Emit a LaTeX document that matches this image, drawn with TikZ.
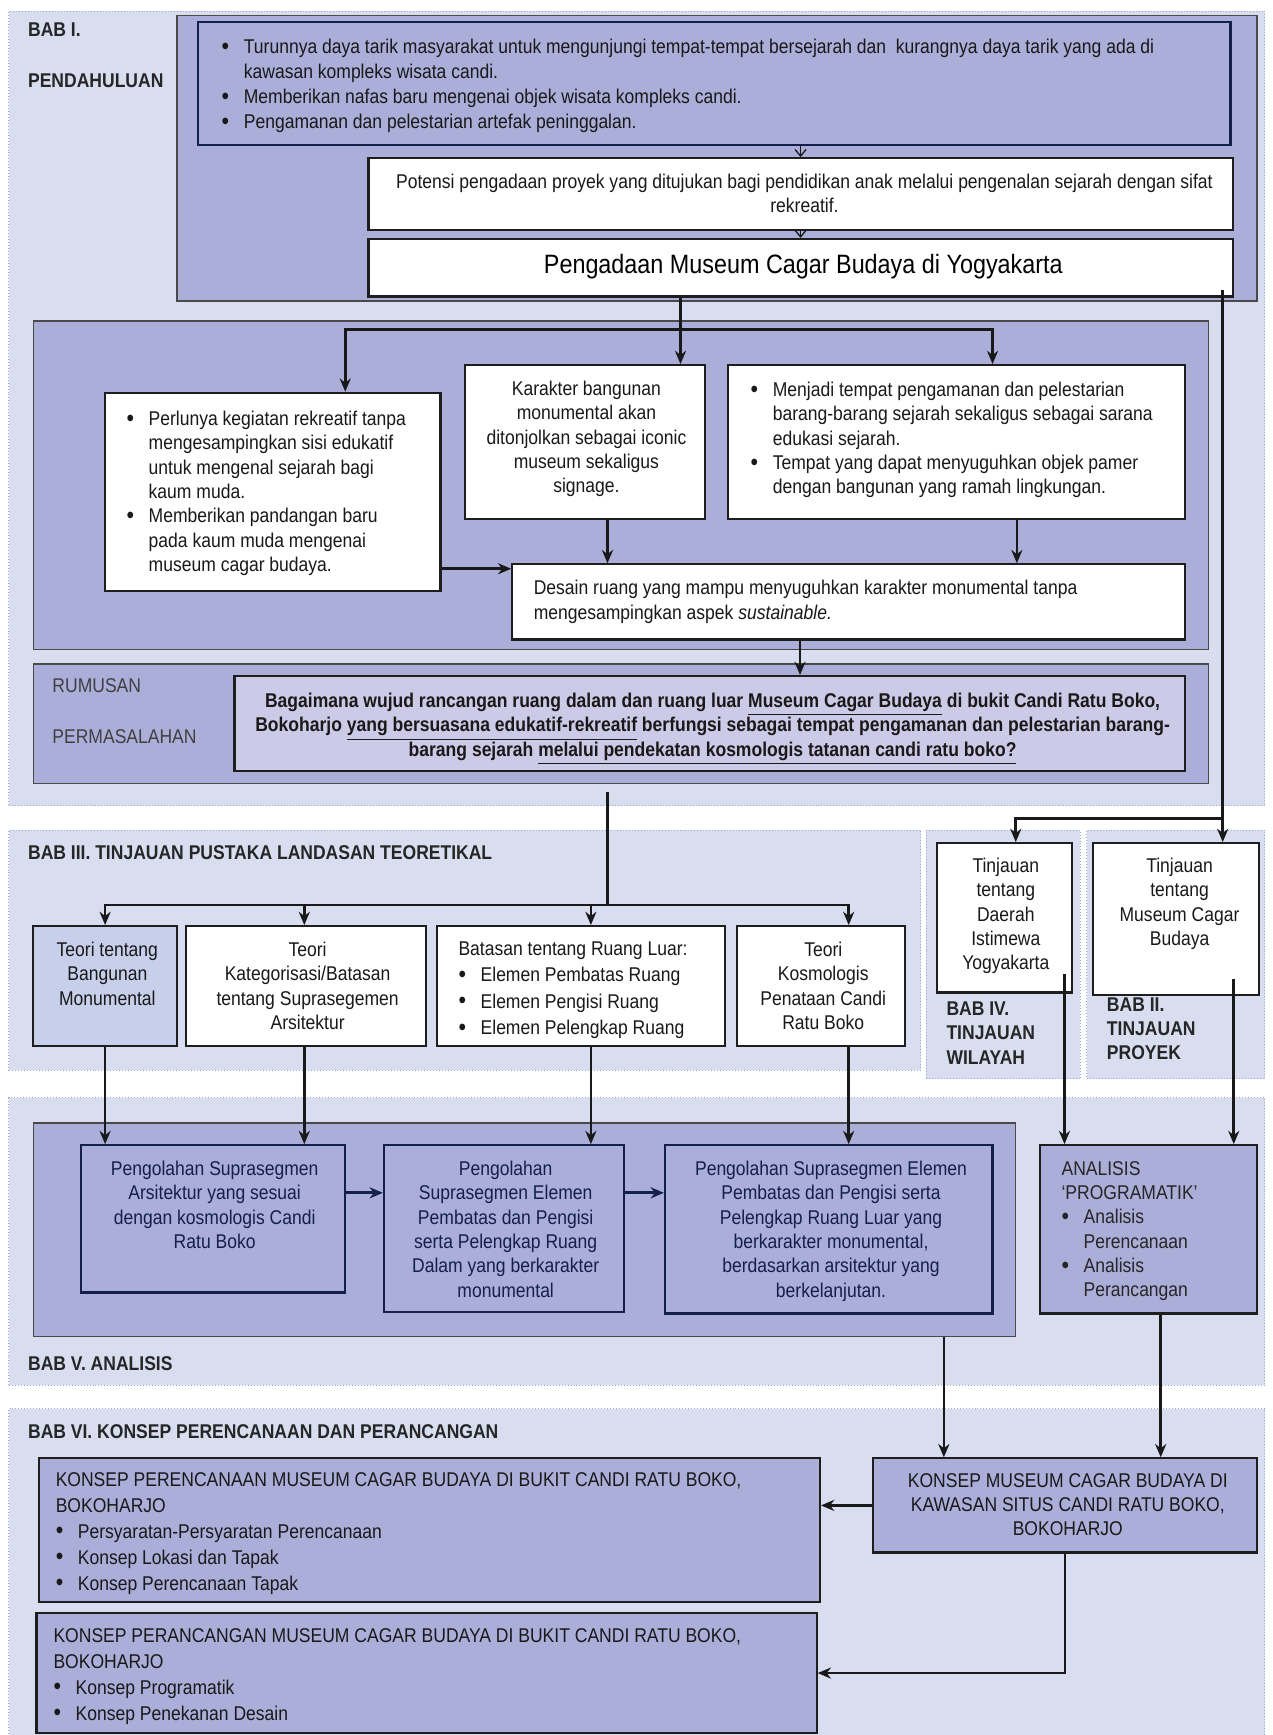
\documentclass[tikz,border=0pt]{standalone}
\usepackage{fontspec}
\setmainfont{Liberation Sans}[FakeStretch=0.88]
\usetikzlibrary{arrows.meta}
\definecolor{bgl}{HTML}{D8DEF0}
\definecolor{secb}{HTML}{9AAAD3}
\definecolor{pnl}{HTML}{AAAED9}
\definecolor{rumf}{HTML}{CCCAE6}
\definecolor{bonef}{HTML}{C8CFEB}
\definecolor{navy}{HTML}{14204A}
\definecolor{bdr}{HTML}{1E1E1E}
\definecolor{pbd}{HTML}{4A4A4A}
\newcommand\bult{\makebox[10pt][l]{\raisebox{-0.4pt}{\fontsize{11}{11}\selectfont\textbullet}}}
\newcommand\indt{\hspace*{10pt}}
\newcommand\bx[6]{\node[#2, minimum width={(#5-#3)*0.5pt}, minimum height={(#6-#4)*0.5pt}, inner sep=0pt] (#1) at ({(#3+#5)/2},{(#4+#6)/2}) {};}
\newcommand\tleft[5][]{\node[tx, align=left, anchor=north west, #1] (#2) at (#3,{#4-7}) {#5};}
\newcommand\tcent[5][]{\node[tx, align=center, anchor=north, #1] (#2) at (#3,{#4-7}) {#5};}
\tikzset{
  secbg/.style={fill=bgl, draw=secb, densely dotted, line width=0.35pt},
  panelbox/.style={fill=pnl, draw=pbd, line width=0.6pt},
  wbox/.style={fill=white, draw=bdr, line width=1pt},
  nbox/.style={fill=pnl, draw=navy, line width=1pt},
  tx/.style={inner sep=0pt, font=\fontsize{9}{11}\selectfont, text=black!90},
  hd/.style={font=\fontsize{9}{11}\selectfont\bfseries, text=black!85},
  lab/.style={text=black!75},
  lin/.style={line width=1.2pt, draw=black!90},
  arr/.style={lin, -{Stealth[length=6pt,width=5pt]}},
  sarr/.style={line width=0.6pt, draw=black!90, -{Straight Barb[length=3pt,width=5pt]}},
}
\begin{document}
\begin{tikzpicture}[x=0.5pt,y=-0.5pt]
\useasboundingbox (0,0) rectangle (1150,1568);
\fill[white] (0,0) rectangle (1150,1568);
% sections
\bx{s1}{secbg}{8}{10}{1143}{728}
\bx{s3}{secbg}{8}{750}{832}{967}
\bx{s4}{secbg}{837}{750}{976}{975}
\bx{s2}{secbg}{982}{750}{1143}{975}
\bx{s5}{secbg}{8}{992}{1143}{1252}
\bx{s6}{secbg}{8}{1273}{1143}{1572}
% panels
\bx{p1}{panelbox}{160}{14}{1136}{272}
\bx{p2}{panelbox}{30}{290}{1092}{587}
\bx{p3}{panelbox}{30}{600}{1092}{708}
\bx{p5}{panelbox}{30}{1015}{918}{1208}
% boxes
\bx{a1}{nbox}{179}{20}{1112}{131}
\bx{a2}{wbox}{333}{143}{1114}{208}
\bx{a3}{wbox}{333}{216}{1114}{268}
\bx{c1}{wbox}{95}{355}{398}{534}
\bx{c2}{wbox}{420}{330}{637}{469}
\bx{c3}{wbox}{658}{330}{1071}{469}
\bx{c4}{wbox}{463}{510}{1071}{578}
\bx{q}{wbox, fill=rumf}{212}{611}{1071}{697}
\bx{d1}{wbox, fill=bonef}{30}{837}{160}{945}
\bx{d2}{wbox}{168}{837}{385}{945}
\bx{d3}{wbox}{395}{837}{655}{945}
\bx{d4}{wbox}{666}{837}{818}{945}
\bx{t1}{wbox}{847}{762}{969}{897}
\bx{t2}{wbox}{988}{762}{1138}{899}
\bx{e1}{nbox}{73}{1035}{312}{1168}
\bx{e2}{nbox}{347}{1035}{564}{1186}
\bx{e3}{nbox}{601}{1035}{897}{1187}
\bx{e4}{wbox, fill=pnl}{940}{1035}{1136}{1187}
\bx{k1}{wbox, fill=pnl}{35}{1318}{741}{1448}
\bx{k2}{wbox, fill=pnl}{33}{1458}{738}{1566}
\bx{km}{wbox, fill=pnl}{789}{1318}{1136}{1403}
% section labels
\tleft[hd]{h1}{25}{27}{BAB I.}
\tleft[hd]{h1b}{25}{73}{PENDAHULUAN}
\tleft[lab]{h1c}{47}{620}{RUMUSAN}
\tleft[lab]{h1d}{47}{666}{PERMASALAHAN}
\tleft[hd]{h3}{25}{771}{BAB III. TINJAUAN PUSTAKA LANDASAN TEORETIKAL}
\tleft[hd]{h4}{855}{912}{BAB IV.\\TINJAUAN\\WILAYAH}
\tleft[hd]{h2}{1000}{908}{BAB II.\\TINJAUAN\\PROYEK}
\tleft[hd]{h5}{25}{1233}{BAB V. ANALISIS}
\tleft[hd]{h6}{25}{1294}{BAB VI. KONSEP PERENCANAAN DAN PERANCANGAN}
% texts
\tleft[font=\fontsize{9}{11.3}\selectfont]{a1t}{200}{42}{\bult Turunnya daya tarik masyarakat untuk mengunjungi tempat-tempat bersejarah dan\ \ kurangnya daya tarik yang ada di\\\indt kawasan kompleks wisata candi.\\\bult Memberikan nafas baru mengenai objek wisata kompleks candi.\\\bult Pengamanan dan pelestarian artefak peninggalan.}
\tcent{a2t}{727}{164}{Potensi pengadaan proyek yang ditujukan bagi pendidikan anak melalui pengenalan sejarah dengan sifat\\rekreatif.}
\node[inner sep=0pt, font=\fontsize{12}{14}\selectfont] (a3t) at (726,241) {Pengadaan Museum Cagar Budaya di Yogyakarta};
\tleft{c1t}{114}{378}{\bult Perlunya kegiatan rekreatif tanpa\\\indt mengesampingkan sisi edukatif\\\indt untuk mengenal sejarah bagi\\\indt kaum muda.\\\bult Memberikan pandangan baru\\\indt pada kaum muda mengenai\\\indt museum cagar budaya.}
\tcent{c2t}{530}{351}{Karakter bangunan\\monumental akan\\ditonjolkan sebagai iconic\\museum sekaligus\\signage.}
\tleft{c3t}{678}{352}{\bult Menjadi tempat pengamanan dan pelestarian\\\indt barang-barang sejarah sekaligus sebagai sarana\\\indt edukasi sejarah.\\\bult Tempat yang dapat menyuguhkan objek pamer\\\indt dengan bangunan yang ramah lingkungan.}
\tleft{c4t}{482}{531}{Desain ruang yang mampu menyuguhkan karakter monumental tanpa\\mengesampingkan aspek \textit{sustainable.}}
\tcent[font=\fontsize{9}{11}\selectfont\bfseries]{qt}{644}{633}{Bagaimana wujud rancangan ruang dalam dan ruang luar \underline{Museum Cagar Budaya} di bukit Candi Ratu Boko,\\Bokoharjo \underline{yang bersuasana edukatif-rekreatif} berfungsi sebagai tempat pengamanan dan pelestarian barang-\\barang sejarah \underline{melalui pendekatan kosmologis tatanan candi ratu boko?}}
\tcent{d1t}{97}{858}{Teori tentang\\Bangunan\\Monumental}
\tcent{d2t}{278}{858}{Teori\\Kategorisasi/Batasan\\tentang Suprasegemen\\Arsitektur}
\tleft[font=\fontsize{9}{11.8}\selectfont]{d3t}{414}{858}{Batasan tentang Ruang Luar:\\\bult Elemen Pembatas Ruang\\\bult Elemen Pengisi Ruang\\\bult Elemen Pelengkap Ruang}
\tcent{d4t}{744}{858}{Teori\\Kosmologis\\Penataan Candi\\Ratu Boko}
\tcent{t1t}{909}{782}{Tinjauan\\tentang\\Daerah\\Istimewa\\Yogyakarta}
\tcent{t2t}{1066}{782}{Tinjauan\\tentang\\Museum Cagar\\Budaya}
\tcent[text=navy]{e1t}{194}{1056}{Pengolahan Suprasegmen\\Arsitektur yang sesuai\\dengan kosmologis Candi\\Ratu Boko}
\tcent[text=navy]{e2t}{457}{1056}{Pengolahan\\Suprasegmen Elemen\\Pembatas dan Pengisi\\serta Pelengkap Ruang\\Dalam yang berkarakter\\monumental}
\tcent[text=navy]{e3t}{751}{1056}{Pengolahan Suprasegmen Elemen\\Pembatas dan Pengisi serta\\Pelengkap Ruang Luar yang\\berkarakter monumental,\\berdasarkan arsitektur yang\\berkelanjutan.}
\tleft[text=black!85]{e4t}{959}{1056}{ANALISIS\\‘PROGRAMATIK’\\\bult Analisis\\\indt Perencanaan\\\bult Analisis\\\indt Perancangan}
\tleft[font=\fontsize{9}{11.75}\selectfont]{k1t}{50}{1337}{KONSEP PERENCANAAN MUSEUM CAGAR BUDAYA DI BUKIT CANDI RATU BOKO,\\BOKOHARJO\\\bult Persyaratan-Persyaratan Perencanaan\\\bult Konsep Lokasi dan Tapak\\\bult Konsep Perencanaan Tapak}
\tleft[font=\fontsize{9}{11.75}\selectfont]{k2t}{48}{1478}{KONSEP PERANCANGAN MUSEUM CAGAR BUDAYA DI BUKIT CANDI RATU BOKO,\\BOKOHARJO\\\bult Konsep Programatik\\\bult Konsep Penekanan Desain}
\tcent{kmt}{965}{1338}{KONSEP MUSEUM CAGAR BUDAYA DI\\KAWASAN SITUS CANDI RATU BOKO,\\BOKOHARJO}
% connectors
\draw[sarr] (a2.north |- a1.south) -- (a2.north);
\draw[sarr] (a2.south) -- (a3.north);
\coordinate (j0) at (615,298);
\coordinate (j1) at (312,298);
\coordinate (j2) at (897,298);
\draw[lin] (a3.south -| j0) -- (j0);
\draw[arr] (j0) -- (j1) -- (c1.north -| j1);
\draw[arr] (j0) -- (c2.north -| j0);
\draw[arr] (j0) -- (j2) -- (c3.north -| j2);
\coordinate (y514) at (0,514);
\draw[arr] (c1.east |- y514) -- (c4.west |- y514);
\coordinate (x549) at (549,0);
\draw[arr] (c2.south -| x549) -- (c4.north -| x549);
\coordinate (x919) at (919,0);
\draw[arr] (c3.south -| x919) -- (c4.north -| x919);
\coordinate (x723) at (723,0);
\draw[arr] (c4.south -| x723) -- (q.north -| x723);
\coordinate (r0) at (549,716);
\coordinate (r1) at (549,818);
\coordinate (g1) at (95,818);
\coordinate (g2) at (275,818);
\coordinate (g3) at (534,818);
\coordinate (g4) at (767,818);
\draw[lin] (r0) -- (r1);
\draw[arr] (r1) -- (g1) -- (d1.north -| g1);
\draw[arr] (g2) -- (d2.north -| g2);
\draw[arr] (g3) -- (d3.north -| g3);
\draw[arr] (r1) -- (g4) -- (d4.north -| g4);
\coordinate (u0) at (1105,262);
\coordinate (u1) at (1105,740);
\coordinate (u2) at (918,740);
\draw[arr] (u0) -- (t2.north -| u0);
\draw[arr] (u1) -- (u2) -- (t1.north -| u2);
\draw[arr] (d1.south -| g1) -- (e1.north -| g1);
\draw[arr] (d2.south -| g2) -- (e1.north -| g2);
\draw[arr] (d3.south -| g3) -- (e2.north -| g3);
\draw[arr] (d4.south -| g4) -- (e3.north -| g4);
\coordinate (v1) at (962,880);
\coordinate (v2) at (1115,885);
\draw[arr] (v1) -- (e4.north -| v1);
\draw[arr] (v2) -- (e4.north -| v2);
\coordinate (y1078) at (0,1078);
\draw[arr, draw=navy] (e1.east |- y1078) -- (e2.west |- y1078);
\draw[arr, draw=navy] (e2.east |- y1078) -- (e3.west |- y1078);
\coordinate (x853) at (853,0);
\coordinate (x1049) at (1049,0);
\draw[arr] (p5.south -| x853) -- (km.north -| x853);
\draw[arr] (e4.south -| x1049) -- (km.north -| x1049);
\draw[arr] (km.west) -- (k1.east |- km.west);
\draw[arr] (km.south) |- (k2.east);
\end{tikzpicture}
\end{document}
